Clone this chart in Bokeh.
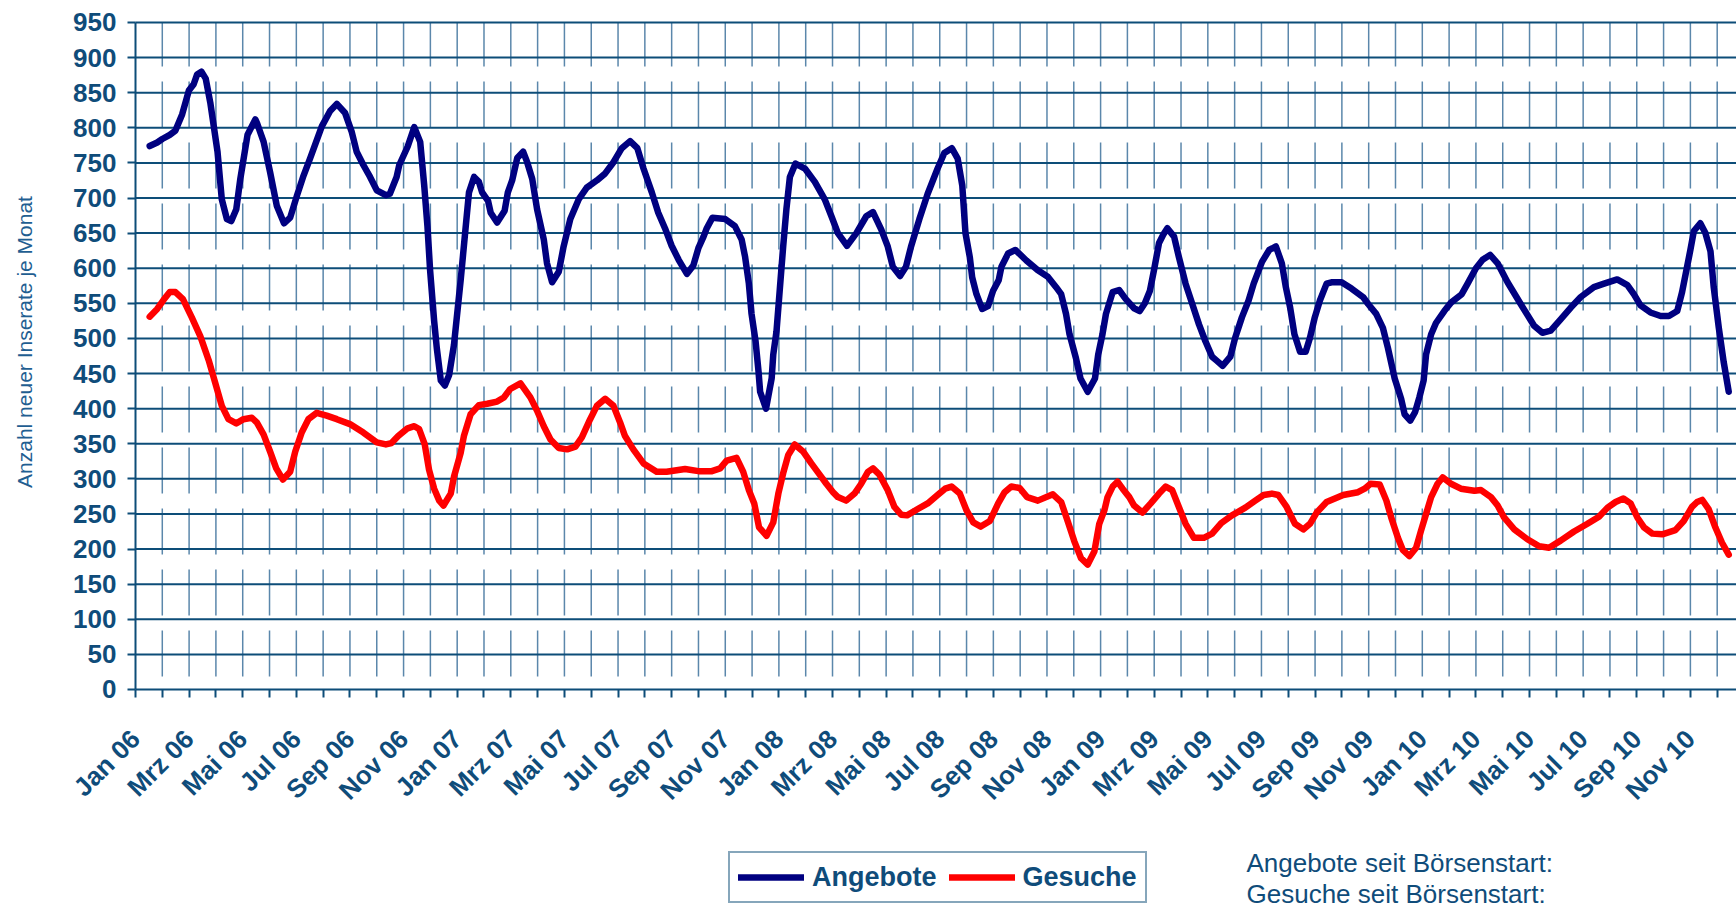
from math import pi
from bokeh.plotting import figure
from bokeh.models import Range1d, FixedTicker, Legend, LegendItem, Label, LinearAxis
from bokeh.embed import file_html
from bokeh.resources import INLINE

# ---------------- data ----------------
tick_labels = ["Jan 06", "Mrz 06", "Mai 06", "Jul 06", "Sep 06", "Nov 06",
               "Jan 07", "Mrz 07", "Mai 07", "Jul 07", "Sep 07", "Nov 07",
               "Jan 08", "Mrz 08", "Mai 08", "Jul 08", "Sep 08", "Nov 08",
               "Jan 09", "Mrz 09", "Mai 09", "Jul 09", "Sep 09", "Nov 09",
               "Jan 10", "Mrz 10", "Mai 10", "Jul 10", "Sep 10", "Nov 10"]
n_months = 60
y_ticks = list(range(0, 951, 50))

# months since start of Jan 2006 (fractional) and new listings per month
ang_month = [0.53, 0.81, 1.0, 1.28, 1.49, 1.74, 1.99, 2.17, 2.3, 2.46, 2.62, 2.79, 3.06, 3.22, 3.41, 3.57,
             3.76, 3.91, 4.18, 4.47, 4.53, 4.78, 5.02, 5.27, 5.54, 5.77, 6.02, 6.27, 6.51, 6.95, 7.26, 7.51,
             7.82, 8.06, 8.25, 8.5, 8.75, 9.0, 9.34, 9.49, 9.74, 9.84, 10.15, 10.4, 10.62, 10.77, 10.89, 10.99,
             11.14, 11.24, 11.39, 11.54, 11.7, 11.88, 12.13, 12.32, 12.44, 12.63, 12.81, 12.93, 13.15, 13.25,
             13.49, 13.77, 13.89, 14.05, 14.24, 14.46, 14.61, 14.8, 14.98, 15.23, 15.35, 15.54, 15.79, 15.97,
             16.22, 16.53, 16.84, 17.21, 17.52, 17.83, 18.14, 18.45, 18.72, 18.95, 19.26, 19.5, 19.75, 20.0,
             20.26, 20.57, 20.81, 21.0, 21.19, 21.31, 21.52, 22.0, 22.36, 22.61, 22.74, 22.88, 22.98, 23.13,
             23.24, 23.3, 23.52, 23.73, 23.79, 23.91, 24.04, 24.16, 24.28, 24.41, 24.62, 24.97, 25.34, 25.71,
             25.96, 26.2, 26.54, 26.89, 27.26, 27.51, 27.82, 28.06, 28.25, 28.52, 28.74, 28.93, 29.24, 29.55,
             29.92, 30.17, 30.45, 30.67, 30.84, 30.96, 31.12, 31.21, 31.37, 31.58, 31.8, 31.99, 32.2, 32.3,
             32.55, 32.82, 33.23, 33.66, 34.03, 34.34, 34.53, 34.71, 34.84, 35.08, 35.25, 35.52, 35.79, 35.91,
             36.07, 36.2, 36.45, 36.69, 36.94, 37.25, 37.46, 37.65, 37.84, 37.99, 38.18, 38.34, 38.49, 38.74,
             38.92, 39.17, 39.42, 39.67, 39.91, 40.16, 40.34, 40.55, 40.84, 41.02, 41.27, 41.52, 41.71, 42.02,
             42.29, 42.54, 42.76, 42.91, 43.07, 43.23, 43.44, 43.65, 43.81, 43.99, 44.18, 44.43, 44.61, 44.99,
             45.36, 45.79, 45.98, 46.28, 46.53, 46.72, 46.97, 47.21, 47.34, 47.55, 47.73, 47.89, 48.05, 48.14,
             48.33, 48.51, 48.82, 49.07, 49.47, 49.69, 50.0, 50.25, 50.53, 50.81, 51.18, 51.67, 52.17, 52.48,
             52.79, 53.16, 53.54, 53.91, 54.4, 54.78, 55.27, 55.65, 55.89, 56.14, 56.51, 56.89, 57.2, 57.51,
             57.69, 57.85, 58.0, 58.13, 58.37, 58.56, 58.75, 58.87, 59.06, 59.24, 59.43]
ang_value = [774, 779, 784, 790, 796, 819, 853, 862, 876, 880, 870, 836, 766, 698, 670, 667,
             684, 727, 790, 812, 807, 780, 737, 689, 664, 672, 703, 732, 756, 802, 824, 834,
             821, 795, 766, 747, 730, 711, 704, 706, 730, 747, 773, 801, 780, 718, 660, 597,
             525, 486, 440, 433, 448, 491, 583, 660, 708, 730, 723, 708, 696, 679,
             665, 682, 708, 725, 757, 766, 751, 727, 684, 641, 607, 580, 595, 631,
             670, 698, 715, 725, 735, 751, 771, 781, 771, 742, 708, 679, 657, 632,
             612, 592, 604, 629, 645, 657, 672, 670, 660, 641, 616, 578, 535, 496,
             453, 424, 400, 443, 477, 510, 573, 631, 684, 730, 749, 742, 723, 698,
             674, 650, 632, 650, 674, 680, 655, 631, 602, 589, 602, 631, 670, 706,
             742, 764, 771, 756, 718, 650, 616, 587, 563, 542, 546, 568, 583, 602,
             621, 626, 611, 597, 588, 573, 563, 535, 506, 472, 443, 424, 443, 477,
             506, 535, 566, 569, 556, 543, 539, 550, 568, 597, 636, 648, 657, 645,
             616, 578, 549, 520, 496, 474, 468, 461, 474, 501, 530, 554, 578, 609,
             626, 631, 607, 573, 544, 506, 481, 481, 501, 530, 554, 578, 580, 580,
             571, 559, 549, 535, 515, 486, 443, 414, 392, 383, 395, 416, 440, 477,
             506, 522, 539, 551, 563, 578, 600, 612, 619, 607, 580, 549, 518, 508,
             511, 527, 544, 559, 573, 578, 584, 576, 563, 547, 537, 532, 532, 539,
             566, 597, 626, 653, 664, 650, 624, 573, 515, 467, 424]

ges_month = [0.53, 0.81, 1.05, 1.28, 1.49, 1.77, 2.1, 2.42, 2.73, 2.98, 3.22, 3.47, 3.76, 4.03, 4.34, 4.53,
             4.78, 5.02, 5.25, 5.5, 5.77, 5.96, 6.2, 6.45, 6.76, 7.13, 7.51, 8.0, 8.5, 9.0, 9.34, 9.55,
             9.8, 10.15, 10.4, 10.58, 10.79, 10.95, 11.14, 11.33, 11.49, 11.76, 11.88, 12.13, 12.25, 12.5,
             12.81, 13.12, 13.49, 13.74, 13.98, 14.36, 14.73, 14.98, 15.23, 15.48, 15.79, 16.1, 16.41, 16.65,
             16.96, 17.21, 17.52, 17.83, 18.08, 18.26, 18.57, 18.95, 19.44, 19.81, 20.5, 21.0, 21.5, 21.81,
             22.05, 22.42, 22.67, 22.88, 23.08, 23.26, 23.54, 23.79, 23.98, 24.16, 24.35, 24.59, 24.9, 25.21,
             25.52, 25.77, 26.02, 26.2, 26.51, 26.82, 27.07, 27.32, 27.51, 27.75, 28.06, 28.31, 28.56, 28.78,
             29.18, 29.55, 29.92, 30.2, 30.44, 30.75, 31.0, 31.25, 31.53, 31.87, 32.18, 32.42, 32.67, 32.98,
             33.26, 33.66, 34.22, 34.53, 34.77, 35.02, 35.27, 35.52, 35.77, 35.95, 36.14, 36.26, 36.45, 36.63,
             36.82, 37.07, 37.25, 37.56, 37.87, 38.18, 38.43, 38.67, 38.92, 39.17, 39.48, 39.85, 40.16, 40.5,
             40.9, 41.4, 41.77, 42.08, 42.39, 42.63, 42.94, 43.25, 43.56, 43.81, 44.06, 44.43, 45.05, 45.6,
             45.85, 46.07, 46.41, 46.66, 46.84, 47.09, 47.27, 47.52, 47.77, 47.95, 48.14, 48.33, 48.57, 48.76,
             49.07, 49.44, 49.94, 50.19, 50.56, 50.81, 51.05, 51.43, 51.92, 52.36, 52.73, 53.16, 53.66, 54.16,
             54.59, 54.91, 55.21, 55.5, 55.77, 56.02, 56.27, 56.58, 56.95, 57.44, 57.75, 58.06, 58.25, 58.44,
             58.68, 58.93, 59.18, 59.43]
ges_value = [531, 542, 555, 566, 566, 556, 530, 503, 469, 436, 404, 385, 379, 385, 387, 380,
             363, 339, 315, 299, 310, 339, 366, 385, 394, 390, 385, 378, 366, 352, 349, 351,
             361, 372, 375, 371, 349, 313, 286, 269, 262, 279, 303, 337, 361, 392,
             405, 407, 410, 416, 428, 436, 416, 397, 375, 356, 344, 342, 346, 359,
             385, 404, 414, 404, 380, 361, 342, 322, 310, 310, 314, 311, 311, 315,
             326, 330, 310, 284, 265, 231, 219, 238, 279, 308, 334, 349, 339, 322,
             306, 293, 281, 274, 269, 279, 293, 310, 315, 306, 284, 260, 249, 248,
             257, 265, 277, 286, 289, 279, 255, 238, 232, 240, 265, 281, 289, 287,
             274, 269, 278, 267, 240, 211, 187, 178, 197, 236, 255, 274, 289, 296,
             286, 274, 262, 252, 265, 279, 289, 284, 260, 236, 216, 216, 222, 237,
             248, 259, 269, 277, 279, 277, 260, 236, 228, 236, 252, 267, 277, 281,
             286, 293, 292, 269, 245, 216, 199, 190, 202, 226, 250, 274, 293, 302,
             293, 286, 283, 284, 274, 262, 245, 228, 214, 204, 202, 212, 225, 236,
             246, 259, 267, 272, 265, 245, 231, 222, 221, 227, 240, 260, 267, 270,
             257, 231, 209, 192]

# ---------------- style ----------------
DARK = "#0d4d78"
LABEL_C = "#0f4c7a"
VGRID = "#5b87ab"
W, H = 1736, 907
X0, X1 = -5.035, 59.72        # frame covers the whole canvas; axes sit at 0
Y0, Y1 = -310.5, 981.3

p = figure(width=W, height=H, output_backend="svg", toolbar_location=None,
           x_range=Range1d(X0, X1), y_range=Range1d(Y0, Y1),
           x_axis_location=None, y_axis_location=None,
           min_border=0, background_fill_color="white", border_fill_color="white")
p.outline_line_color = None
for g in p.grid:
    g.visible = False

# grid drawn on the value area only
months = list(range(1, n_months))
p.segment(x0=months, y0=[0] * len(months), x1=months, y1=[950] * len(months),
          line_color=VGRID, line_width=1.5, line_dash="46 15", line_dash_offset=48)
hy = y_ticks[1:]
p.segment(x0=[0] * len(hy), y0=hy, x1=[X1] * len(hy), y1=hy,
          line_color=DARK, line_width=2)

r_ang = p.line(ang_month, ang_value, line_color="#000080", line_width=6.5,
               line_join="round", line_cap="round")
r_ges = p.line(ges_month, ges_value, line_color="#ff0000", line_width=6.5,
               line_join="round", line_cap="round")

# x axis: month ticks, label every second month
overrides = {i: "" for i in range(n_months)}
for k, lab in enumerate(tick_labels):
    overrides[2 * k] = lab
xa = LinearAxis(fixed_location=0, bounds=(0, X1), ticker=FixedTicker(ticks=list(range(n_months))),
                major_label_overrides=overrides, major_label_orientation=pi / 4,
                major_label_text_font="Liberation Sans", major_label_text_font_style="bold",
                major_label_text_font_size="26px", major_label_text_color=LABEL_C,
                major_label_standoff=37, axis_line_color=DARK, axis_line_width=2,
                major_tick_line_color=DARK, major_tick_line_width=2,
                major_tick_out=8, major_tick_in=0, minor_tick_line_color=None)
p.add_layout(xa, "below")

ya = LinearAxis(fixed_location=0, bounds=(0, 950), ticker=FixedTicker(ticks=y_ticks),
                major_label_text_font="Liberation Sans", major_label_text_font_style="bold",
                major_label_text_font_size="26px", major_label_text_color=LABEL_C,
                major_label_standoff=11, axis_line_color=DARK, axis_line_width=2,
                major_tick_line_color=DARK, major_tick_line_width=2,
                major_tick_out=8, major_tick_in=0, minor_tick_line_color=None)
p.add_layout(ya, "left")

# y axis title
p.add_layout(Label(x=24, y=H - 341.5, x_units="screen", y_units="screen",
                   text="Anzahl neuer Inserate je Monat", angle=pi / 2,
                   text_font="Liberation Sans", text_font_size="21px",
                   text_color="#1f5e91", text_align="center", text_baseline="middle"))

legend = Legend(items=[LegendItem(label="Angebote", renderers=[r_ang]),
                       LegendItem(label="Gesuche", renderers=[r_ges])],
                orientation="horizontal", location=(728, 4), margin=0,
                padding=8, spacing=12, label_standoff=8,
                glyph_width=66, glyph_height=32, label_height=32,
                label_text_font="Liberation Sans", label_text_font_style="bold",
                label_text_font_size="27px", label_text_color=LABEL_C,
                border_line_color=DARK, border_line_width=2,
                background_fill_color="white", background_fill_alpha=1.0)
p.add_layout(legend)

for txt, yy in [("Angebote seit Börsenstart:", H - 862.5), ("Gesuche  seit Börsenstart:", H - 893)]:
    p.add_layout(Label(x=1246, y=yy, x_units="screen", y_units="screen", text=txt,
                       text_font="Liberation Sans", text_font_size="26px",
                       text_color=LABEL_C, text_align="left", text_baseline="alphabetic"))

open("out.html", "w").write(file_html(p, INLINE))
